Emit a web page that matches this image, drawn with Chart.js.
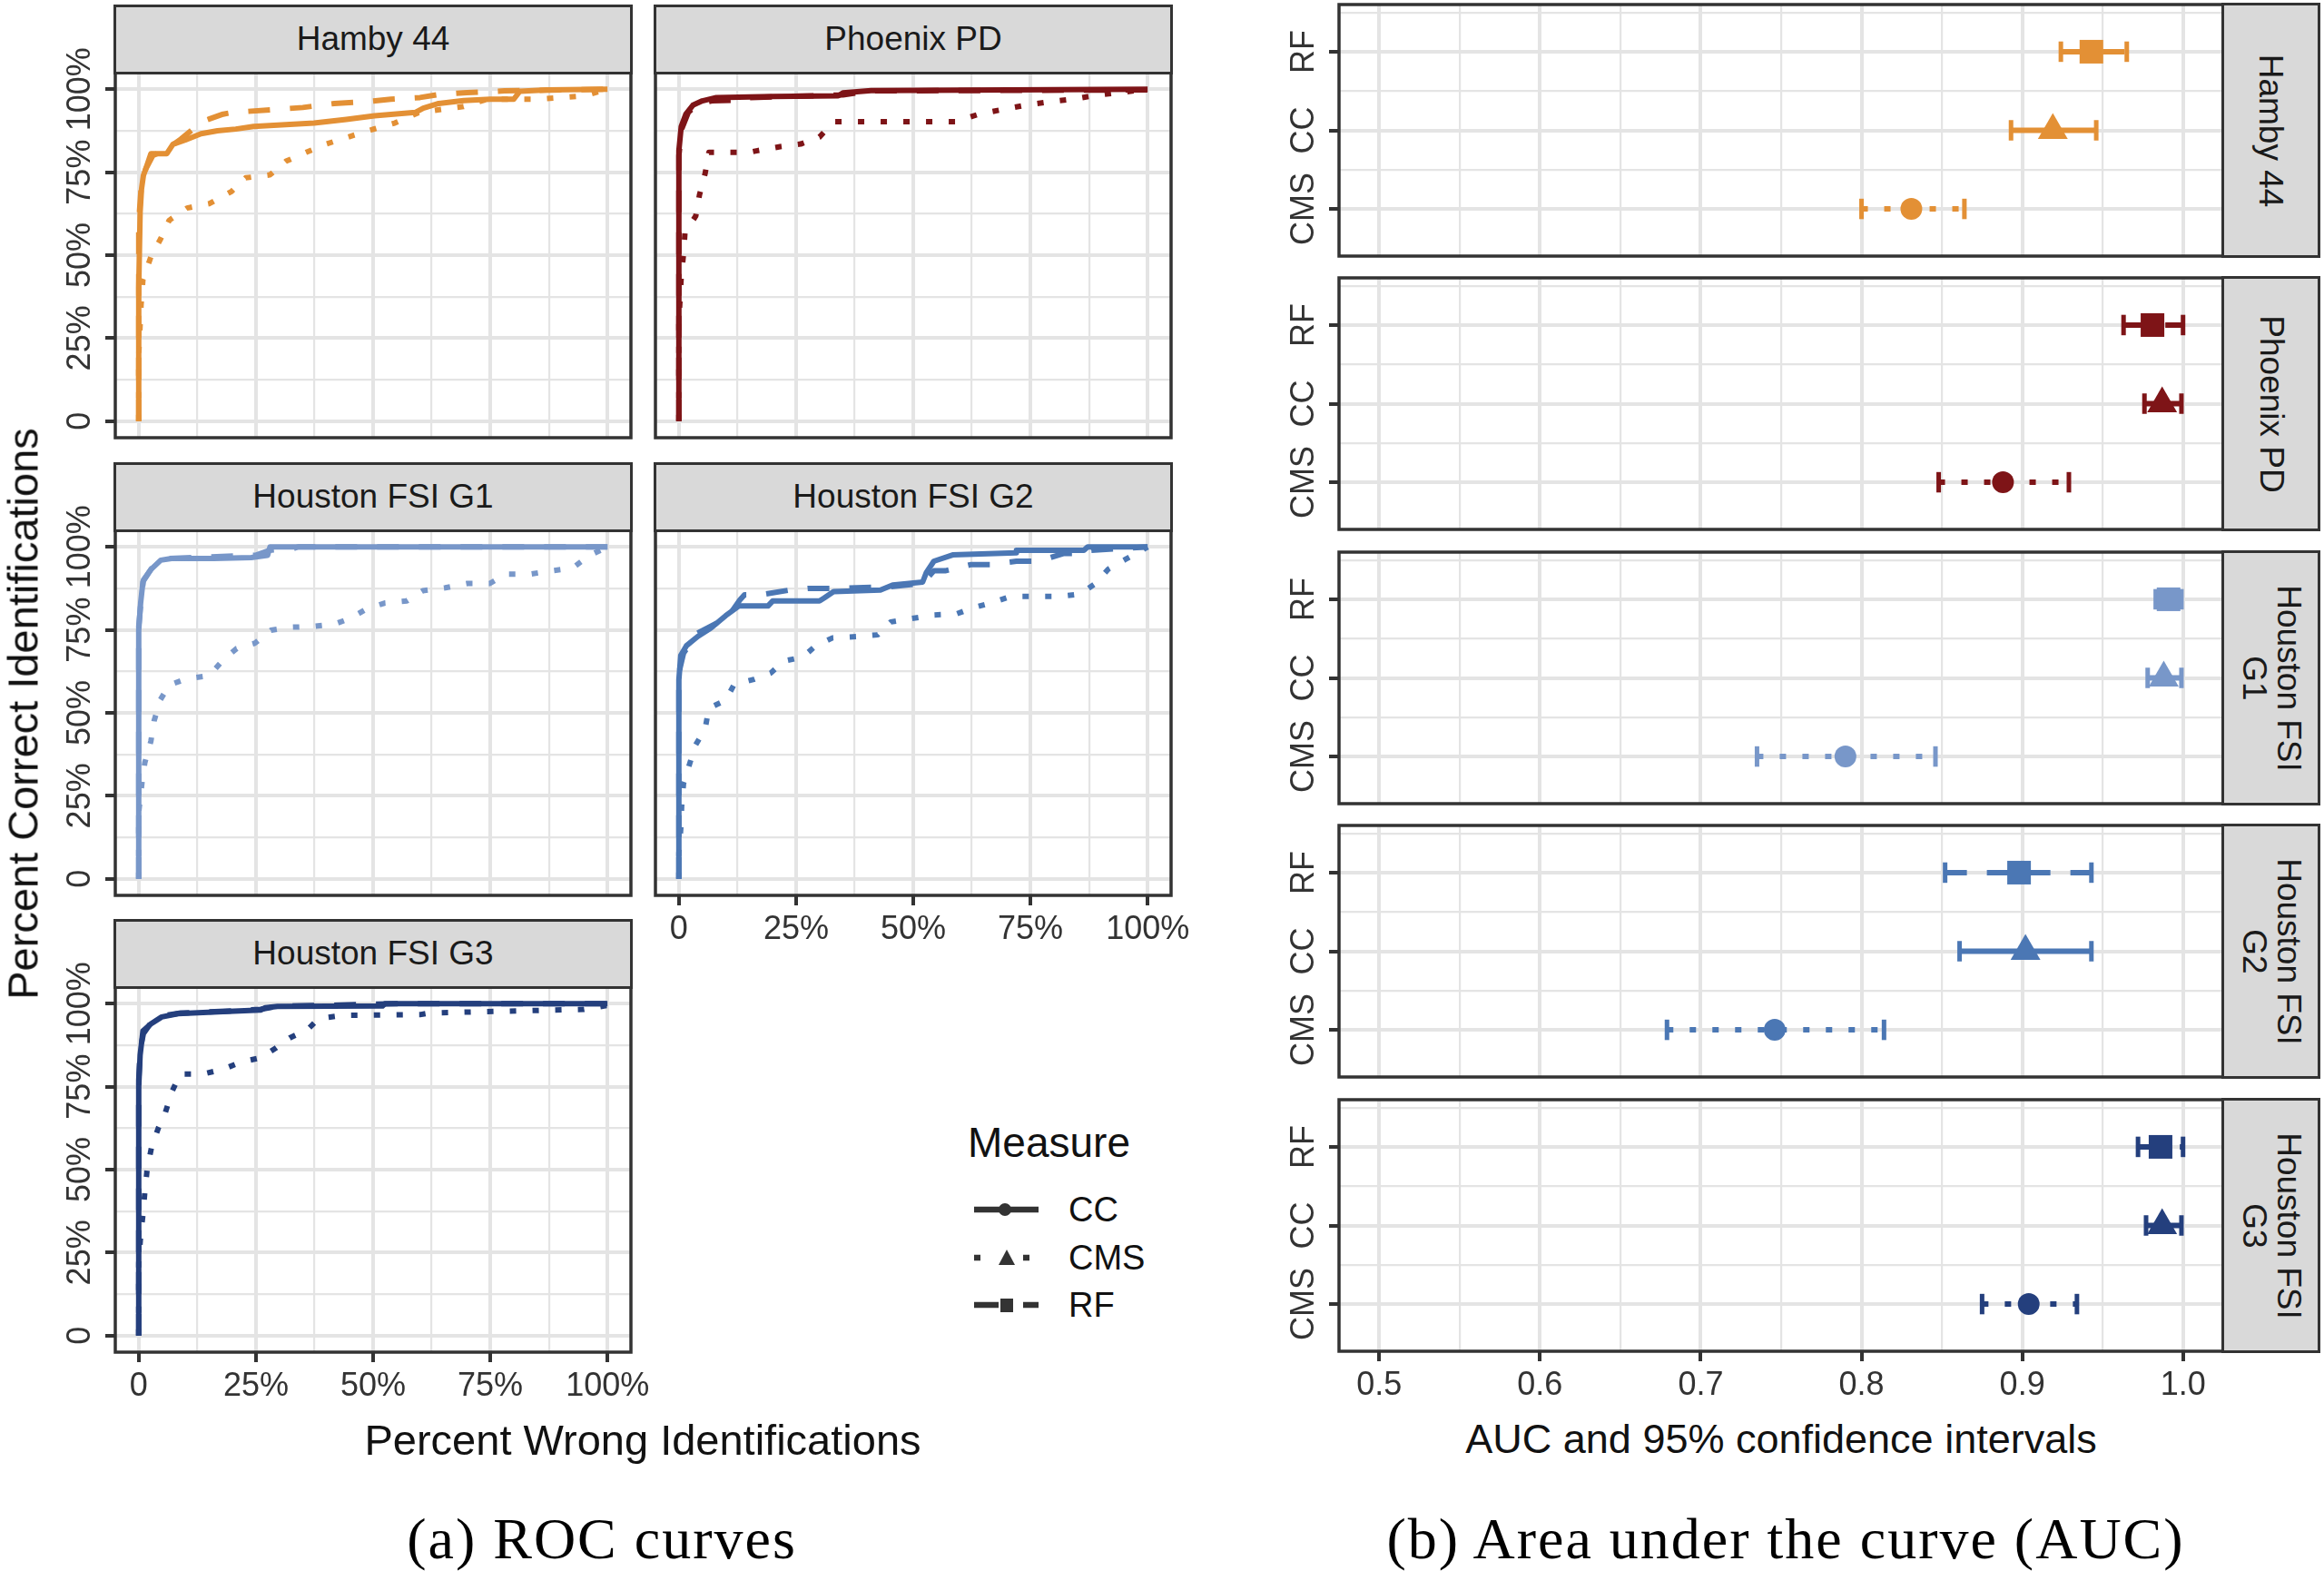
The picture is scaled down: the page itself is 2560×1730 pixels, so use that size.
<!DOCTYPE html>
<html>
<head>
<meta charset="utf-8">
<script src="https://cdn.jsdelivr.net/npm/chart.js@4.4.1/dist/chart.umd.min.js"></script>
<style>
body { margin: 0; background: #fff; }
#page { position: relative; width: 2560px; height: 1730px; background: #fff; overflow: hidden; font-family: "Liberation Sans", Arial, sans-serif; }
canvas { position: absolute; }
.strip { position: absolute; box-sizing: border-box; background: #d9d9d9; border: 3.5px solid #333; color: #1a1a1a; font-size: 37px; display: flex; align-items: center; justify-content: center; }
.strip span { white-space: nowrap; text-align: center; line-height: 38px; }
.vstrip span { transform: rotate(90deg); }
.lbl { position: absolute; white-space: nowrap; color: #111; }
.cap { position: absolute; white-space: nowrap; font-family: "Liberation Serif", serif; font-size: 64px; letter-spacing: 2px; transform: translate(-50%, -50%); }
svg { position: absolute; }
</style>
</head>
<body>
<div id="page"></div>
<script>
'use strict';

// ---- data: ROC curves, [percent wrong, percent correct]
let hambyCC = [[0,0],[0,40],[0.3,63],[0.6,70],[1,74],[1.5,76],[2.6,80.6],[6,80.6],[7.3,83.4],[9.9,84.7],[13.3,86.6],[16.8,87.5],[20.7,88],[24.5,88.8],[37.4,89.8],[44.3,90.9],[50.3,92],[59,93],[60.7,94.3],[64,95.7],[69.3,96.6],[75,97],[80,97],[81.3,99.4],[87,99.8],[100,100]]
let hambyCMS = [[0,0],[0,20],[0.5,35],[0.9,42.7],[2.6,49.5],[4.7,55],[6.5,60.5],[10.3,64.2],[15,65.5],[19.8,69.2],[22.8,73.3],[28,74.2],[31.4,78.3],[35.7,81],[40,83.5],[44.7,85.6],[49.9,87.9],[54.6,89.8],[59.8,93],[64.5,93.9],[69.3,94.8],[74.4,97],[84.8,97],[90,97.5],[95,98],[100,100]]
let hambyRF = [[0,0],[0,60],[0.5,70],[1.5,76],[3,80],[6,82],[9,85],[11.6,88],[13,90],[15,91],[18,92.5],[20,93],[30,94],[35,94.5],[41.7,95.7],[48,96.2],[53.8,97],[60,97.5],[64,98.4],[70,99],[78,99.5],[100,100]]

let phoenixCC = [[0,0],[0,81.5],[0.5,88.8],[1.5,92.5],[3,95.2],[5,96.5],[8,97.5],[20,97.8],[34,98],[35,98.9],[41,99.6],[100,100]]
let phoenixCMS = [[0,0],[0,30],[0.5,43.5],[1,50.4],[1.3,56.8],[3.6,61.8],[4.4,68.2],[5.6,74.6],[6.4,81],[15,81],[16.8,81.5],[21.6,82.7],[26,83.5],[30,85.6],[33,90.2],[59,90.2],[64,92.5],[69,93.9],[74,95.2],[79,96.2],[84,97],[89,98.2],[94,99],[100,100]]
let phoenixRF = [[0,0],[0,80],[0.6,88],[2,93],[4,95.5],[7,96.5],[14,96.8],[15,97.5],[35,98.3],[41,99.5],[100,99.8]]

let g1CC = [[0,0],[0,74.9],[0.4,83],[0.9,89.5],[2.6,93.2],[4.7,96],[7,96.5],[16,96.5],[24,96.8],[27.5,97.5],[28,100],[100,100]]
let g1CMS = [[0,0],[0,20],[0.7,29],[1.3,35],[2.6,41.5],[3.3,47.7],[4.6,53.9],[6.5,58.4],[10.3,60.3],[15,61.2],[17.9,65.8],[20.9,69.4],[24.8,71],[28.2,74.9],[32.1,75.8],[36.9,76],[41.7,76.7],[45.2,78.5],[48.6,81.3],[52.5,83.1],[57.2,83.7],[60.6,86.8],[65.4,87.7],[70.1,89],[74.9,89],[78.3,91.8],[83.5,91.8],[87.5,92.7],[92.5,93.6],[96,97.3],[100,100]]
let g1RF = [[0,0],[0,76],[0.5,84],[1,90],[3,94],[6,96.5],[12,96.8],[25,97.5],[28,99],[33,99.5],[34,100],[100,100]]

let g2CC = [[0,0],[0,60],[0.4,67.3],[1.6,70.2],[4,73],[6.8,75.5],[10,79.3],[12.8,82.2],[19,82.2],[20,83.7],[30,83.7],[31,84.6],[33,86.5],[43,87],[45.6,88.5],[52,89.4],[52.8,92.3],[54.4,95.7],[58.4,97.6],[72,98.2],[72,99],[86.4,99],[87.2,100],[100,100]]
let g2CMS = [[0,0],[0,7.7],[0.4,14.9],[0.6,22],[1,28.8],[2.4,35.1],[3.6,40.4],[5.6,45.2],[6.4,51.4],[10,53.8],[11.8,58.6],[16,60.1],[19.6,62],[22.4,65.6],[26.4,66.8],[29.2,70.2],[32.8,72.6],[38,73],[42.4,73.5],[45.2,77.4],[49.6,78.4],[54.4,79.5],[59.2,79.8],[62.8,81.7],[66.8,83.2],[70.8,85.1],[81.2,85.1],[85.6,85.8],[88.8,88.9],[91.6,93.3],[95.2,96.2],[100,100]]
let g2RF = [[0,0],[0,62],[1,68],[4,74],[8,77],[11,80],[13,84],[14,85.6],[17.6,85.6],[23.6,87],[27.6,87.5],[33,87.5],[45,88],[52,89],[54.4,92.8],[56.8,92.8],[62.4,94.7],[66.4,94.7],[72,95.7],[76.8,95.7],[82,98],[86.4,98],[88,99],[100,100]]

let g3CC = [[0,0],[0,75],[0.3,84.5],[0.9,91.8],[2.6,93.9],[4.9,96],[8.4,97],[18,97.6],[26,98.1],[27,98.8],[29.6,99.2],[52,99.3],[52.5,100],[100,100]]
let g3CMS = [[0,0],[0,21.8],[0.4,30],[0.9,36.4],[1.3,43.2],[1.8,50.2],[2.7,56.5],[4.2,62.6],[5.7,67.3],[7.1,73.5],[8.8,78.8],[13.7,78.8],[18.1,80.3],[21.8,82.4],[26,83.7],[29.2,86.6],[32.2,89.7],[36,92.2],[38.4,95.5],[43.7,96.5],[60,96.7],[62,97.2],[95,98.3],[100,99.5]]
let g3RF = [[0,0],[0,77],[0.3,86],[1,91],[2.5,94],[5,96.3],[9,97.2],[20,97.8],[26,98.3],[30,99.3],[40,99.5],[55,100],[100,100]]

// ---- data: AUC with 95% CI, one value per facet
let facets = ['Hamby 44', 'Phoenix PD', 'Houston FSI G1', 'Houston FSI G2', 'Houston FSI G3']
let measures = ['CMS', 'CC', 'RF']
let cmsAuc = [0.831, 0.888, 0.790, 0.746, 0.904]
let cmsLow = [0.800, 0.848, 0.735, 0.679, 0.875]
let cmsHigh = [0.864, 0.929, 0.846, 0.814, 0.934]
let ccAuc = [0.919, 0.987, 0.988, 0.902, 0.987]
let ccLow = [0.893, 0.976, 0.978, 0.861, 0.977]
let ccHigh = [0.946, 0.999, 0.999, 0.943, 0.999]
let rfAuc = [0.943, 0.981, 0.991, 0.898, 0.986]
let rfLow = [0.924, 0.963, 0.983, 0.852, 0.972]
let rfHigh = [0.965, 1.000, 0.999, 0.943, 1.000]

// ---- ticks
let rocGrid = [0, 12.5, 25, 37.5, 50, 62.5, 75, 87.5, 100]
let rocTickVals = [0, 25, 50, 75, 100]
let rocTickLabels = ['0', '25%', '50%', '75%', '100%']
let aucGrid = [0.5, 0.55, 0.6, 0.65, 0.7, 0.75, 0.8, 0.85, 0.9, 0.95, 1.0]
let aucTickVals = [0.5, 0.6, 0.7, 0.8, 0.9, 1.0]
let aucTickLabels = ['0.5', '0.6', '0.7', '0.8', '0.9', '1.0']
let aucYGrid = [1, 1.5, 2, 2.5, 3, 3.5]

let facetColors = ['#e39035', '#7e1417', '#7897c9', '#4b77b4', '#243f7d']

let dotted = [7, 18]
let dashed = [24, 22]

let page = document.getElementById('page')

// room around the plot area for labels that stick out
let mT = 40
let mR = 40

function addCanvas(left, top, w, h)
{
    let c = document.createElement('canvas')
    c.width = w
    c.height = h
    c.style.left = left + 'px'
    c.style.top = top + 'px'
    c.style.width = w + 'px'
    c.style.height = h + 'px'
    page.appendChild(c)
    return c
}

function addText(cls, text, css)
{
    let d = document.createElement('div')
    d.className = cls
    d.textContent = text
    Object.assign(d.style, css)
    page.appendChild(d)
    return d
}

function addStrip(lines, left, top, w, h, vertical)
{
    let d = document.createElement('div')
    d.className = vertical ? 'strip vstrip' : 'strip'
    Object.assign(d.style, { left: left + 'px', top: top + 'px', width: w + 'px', height: h + 'px' })
    let s = document.createElement('span')
    lines.forEach((t, i) => {
        if (i > 0) s.appendChild(document.createElement('br'))
        s.appendChild(document.createTextNode(t))
    })
    d.appendChild(s)
    page.appendChild(d)
}

// frame + tick labels drawn from the chart's own scales
function decor(xVals, xLabels, yVals, yLabels)
{
    return {
        id: 'decor',
        afterDraw(chart) {
            let ctx = chart.ctx
            let a = chart.chartArea
            ctx.save()
            ctx.lineWidth = 3.5
            ctx.strokeStyle = '#333'
            ctx.strokeRect(a.left, a.top, a.right - a.left, a.bottom - a.top)
            ctx.fillStyle = '#333'
            ctx.font = '36px "Liberation Sans"'
            ctx.textAlign = 'center'
            ctx.textBaseline = 'middle'
            if (xLabels) {
                for (let i = 0; i < xVals.length; i++)
                    ctx.fillText(xLabels[i], chart.scales.x.getPixelForValue(xVals[i]), a.bottom + 38)
            }
            if (yLabels) {
                for (let i = 0; i < yVals.length; i++) {
                    ctx.save()
                    ctx.translate(a.left - 38, chart.scales.y.getPixelForValue(yVals[i]))
                    ctx.rotate(-Math.PI / 2)
                    ctx.fillText(yLabels[i], 0, 0)
                    ctx.restore()
                }
            }
            ctx.restore()
        }
    }
}

function axis(pos, min, max, grid, isMajor, size, tickLen)
{
    return {
        type: 'linear', position: pos, min: min, max: max,
        afterBuildTicks: s => { s.ticks = grid.map(v => ({ value: v })) },
        afterFit: s => { if (pos === 'bottom') s.height = size; else s.width = size },
        ticks: { display: false },
        border: { display: false },
        grid: {
            color: '#e4e4e4',
            lineWidth: c => (c.tick && isMajor(c.tick.value)) ? 4 : 2.2,
            drawTicks: tickLen > 0,
            tickLength: tickLen,
            tickWidth: 4,
            tickColor: c => (c.tick && isMajor(c.tick.value)) ? '#333' : 'rgba(0,0,0,0)'
        }
    }
}

function baseOptions(scales)
{
    return {
        responsive: false, animation: false, devicePixelRatio: 1, events: [],
        layout: { autoPadding: false, padding: { top: mT, right: mR, left: 0, bottom: 0 } },
        plugins: { legend: { display: false }, tooltip: { enabled: false } },
        scales: scales
    }
}

function lineSet(pts, color, dash, width, order)
{
    return {
        data: pts.map(p => ({ x: p[0], y: p[1] })),
        borderColor: color, borderWidth: width, borderDash: dash,
        borderCapStyle: 'butt', borderJoinStyle: 'round',
        pointRadius: 0, tension: 0, fill: false, order: order
    }
}

// ---------- (a) ROC curves ----------
let rocLeft = [127, 722]
let rocTop = [5, 509, 1012]
let stripH = 75
let plotW = 568
let plotH = 402
let rocMajor = v => v % 25 === 0

function rocPanel(idx, col, row, cc, cms, rf, showX)
{
    let showY = col === 0
    let padL = showY ? 100 : 4
    let padB = showX ? 70 : 4
    let top = rocTop[row] + stripH
    let cv = addCanvas(rocLeft[col] - padL, top - mT, padL + plotW + mR, mT + plotH + padB)
    let color = facetColors[idx]
    new Chart(cv, {
        type: 'line',
        data: { datasets: [
            lineSet(cc, color, [], 6, 3),
            lineSet(cms, color, dotted, 6, 2),
            lineSet(rf, color, dashed, 6, 1)
        ] },
        options: baseOptions({
            x: axis('bottom', -5, 105, rocGrid, rocMajor, padB, showX ? 11 : 0),
            y: axis('left', -5, 105, rocGrid, rocMajor, padL, showY ? 11 : 0)
        }),
        plugins: [decor(rocTickVals, showX ? rocTickLabels : null, rocTickVals, showY ? rocTickLabels : null)]
    })
    addStrip([facets[idx]], rocLeft[col] - 1.75, rocTop[row], plotW + 3.5, stripH + 1.75, false)
}

rocPanel(0, 0, 0, hambyCC, hambyCMS, hambyRF, false)
rocPanel(1, 1, 0, phoenixCC, phoenixCMS, phoenixRF, false)
rocPanel(2, 0, 1, g1CC, g1CMS, g1RF, false)
rocPanel(3, 1, 1, g2CC, g2CMS, g2RF, true)
rocPanel(4, 0, 2, g3CC, g3CMS, g3RF, true)

addText('lbl', 'Percent Correct Identifications', { left: '25px', top: '786px', fontSize: '47px', transform: 'translate(-50%, -50%) rotate(-90deg)' })
addText('lbl', 'Percent Wrong Identifications', { left: '708px', top: '1585px', fontSize: '47px', transform: 'translate(-50%, -50%)' })

// legend keys (not data)
addText('lbl', 'Measure', { left: '1066px', top: '1258px', fontSize: '46px', transform: 'translateY(-50%)' })
let keyY = [1332, 1385, 1437]
let keyNames = ['CC', 'CMS', 'RF']
let keySvg = [
    '<line x1="5" y1="20" x2="76" y2="20" stroke="#333" stroke-width="6.5"/><circle cx="39" cy="20" r="7" fill="#333"/>',
    '<line x1="5" y1="20" x2="76" y2="20" stroke="#333" stroke-width="6.5" stroke-dasharray="7 47"/><polygon points="41,11 50,28 32,28" fill="#333"/>',
    '<line x1="5" y1="20" x2="76" y2="20" stroke="#333" stroke-width="6.5" stroke-dasharray="27 27"/><rect x="34" y="13" width="14" height="15" fill="#333"/>'
]
for (let i = 0; i < 3; i++)
{
    let s = document.createElementNS('http://www.w3.org/2000/svg', 'svg')
    s.setAttribute('width', 80)
    s.setAttribute('height', 40)
    s.style.left = '1068px'
    s.style.top = (keyY[i] - 20) + 'px'
    s.innerHTML = keySvg[i]
    page.appendChild(s)
    addText('lbl', keyNames[i], { left: '1177px', top: keyY[i] + 'px', fontSize: '38px', transform: 'translateY(-50%)' })
}

// ---------- (b) AUC ----------
let aucLeft = 1475
let aucW = 974
let aucH = 277
let aucTop = [5, 306, 608, 909, 1211]
let aucXMajor = v => Math.abs(v * 10 - Math.round(v * 10)) < 1e-6
let aucYMajor = v => Number.isInteger(v)
let capHalf = 0.13

function aucRows(i, color)
{
    let est = [cmsAuc[i], ccAuc[i], rfAuc[i]]
    let lo = [cmsLow[i], ccLow[i], rfLow[i]]
    let hi = [cmsHigh[i], ccHigh[i], rfHigh[i]]
    let dash = [dotted, [], dashed]
    let shape = ['circle', 'triangle', 'rect']
    let radius = [12, 19, 18.4]
    let sets = []
    for (let m = 0; m < 3; m++)
    {
        let lv = m + 1
        sets.push(lineSet([[lo[m], lv], [hi[m], lv]], color, dash[m], 6, 2))
        sets.push(lineSet([[lo[m], lv - capHalf], [lo[m], lv + capHalf]], color, [], 5, 2))
        sets.push(lineSet([[hi[m], lv - capHalf], [hi[m], lv + capHalf]], color, [], 5, 2))
        sets.push({
            data: [{ x: est[m], y: lv }], showLine: false,
            pointStyle: shape[m], pointRadius: radius[m],
            pointBackgroundColor: color, pointBorderWidth: 0, pointBorderColor: color, order: 0
        })
    }
    return sets
}

for (let i = 0; i < facets.length; i++)
{
    let showX = i === facets.length - 1
    let padL = 100
    let padB = showX ? 70 : 4
    let cv = addCanvas(aucLeft - padL, aucTop[i] - mT, padL + aucW + mR, mT + aucH + padB)
    new Chart(cv, {
        type: 'line',
        data: { datasets: aucRows(i, facetColors[i]) },
        options: baseOptions({
            x: axis('bottom', 0.475, 1.025, aucGrid, aucXMajor, padB, showX ? 11 : 0),
            y: axis('left', 0.4, 3.6, aucYGrid, aucYMajor, padL, 11)
        }),
        plugins: [decor(aucTickVals, showX ? aucTickLabels : null, [1, 2, 3], measures)]
    })
    let name = facets[i].startsWith('Houston') ? ['Houston FSI', facets[i].slice(12)] : [facets[i]]
    addStrip(name, aucLeft + aucW - 1.75, aucTop[i] - 1.75, 2556 - (aucLeft + aucW - 1.75), aucH + 3.5, true)
}

addText('lbl', 'AUC and 95% confidence intervals', { left: '1962px', top: '1585px', fontSize: '45px', transform: 'translate(-50%, -50%)' })

// captions
addText('cap', '(a) ROC curves', { left: '663px', top: '1695px' })
addText('cap', '(b) Area under the curve (AUC)', { left: '1967px', top: '1695px' })
</script>
</body>
</html>
